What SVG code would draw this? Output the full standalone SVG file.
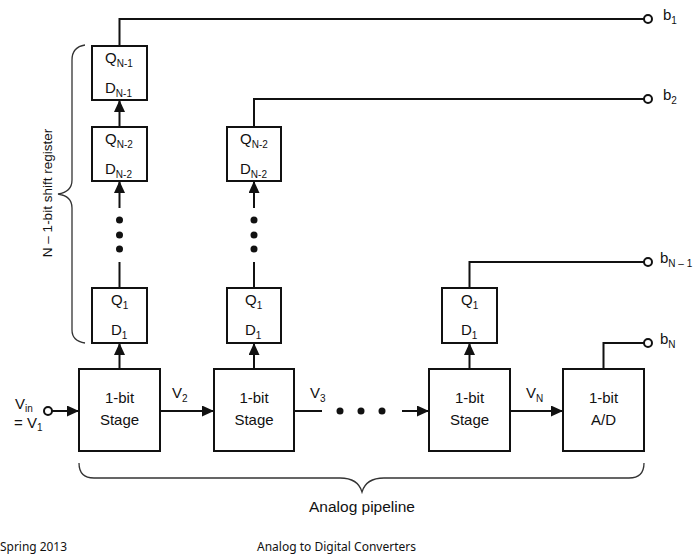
<svg xmlns="http://www.w3.org/2000/svg" width="693" height="560" viewBox="0 0 693 560">
<style>
.box{fill:#fff;stroke:#111;stroke-width:2}
.ln{fill:none;stroke:#111;stroke-width:2}
.ar{fill:none;stroke:#111;stroke-width:2;marker-end:url(#ah)}
.term{fill:#fff;stroke:#111;stroke-width:2}
.dot{fill:#111}
.brace{fill:none;stroke:#333;stroke-width:1.3}
.t{font-family:"Liberation Sans",Arial,sans-serif;font-size:15px;fill:#111}
.tc{text-anchor:middle}
.s{font-size:10px}
.ft{font-family:"Noto Sans","Open Sans",sans-serif;font-size:13px;fill:#111}
</style>
<defs>
<marker id="ah" markerUnits="userSpaceOnUse" markerWidth="12" markerHeight="11" refX="12" refY="5.5" orient="auto">
<path d="M0,0 L12,5.5 L0,11 z" fill="#111"/>
</marker>
</defs>

<g id="connectors">
<line class="ar" x1="119.5" y1="127" x2="119.5" y2="100"/>
<line class="ar" x1="119.5" y1="208" x2="119.5" y2="181"/>
<line class="ln" x1="119.5" y1="262" x2="119.5" y2="288"/>
<line class="ar" x1="119.5" y1="369" x2="119.5" y2="343"/>
<polyline class="ln" points="119.5,46 119.5,19 644,19"/>
<circle class="dot" cx="119.5" cy="220" r="3.5"/>
<circle class="dot" cx="119.5" cy="235" r="3.5"/>
<circle class="dot" cx="119.5" cy="249" r="3.5"/>
<line class="ar" x1="254" y1="208" x2="254" y2="181"/>
<line class="ln" x1="254" y1="262" x2="254" y2="288"/>
<line class="ar" x1="254" y1="369" x2="254" y2="343"/>
<polyline class="ln" points="254,127 254,99 644,99"/>
<circle class="dot" cx="254" cy="220" r="3.5"/>
<circle class="dot" cx="254" cy="235" r="3.5"/>
<circle class="dot" cx="254" cy="249" r="3.5"/>
<line class="ar" x1="469.5" y1="369" x2="469.5" y2="343"/>
<polyline class="ln" points="469.5,288 469.5,262 644,262"/>
<polyline class="ln" points="603.5,369 603.5,343 644,343"/>
<line class="ar" x1="52" y1="411" x2="79" y2="411"/>
<line class="ar" x1="160" y1="411" x2="214" y2="411"/>
<line class="ln" x1="294" y1="411" x2="322" y2="411"/>
<circle class="dot" cx="340" cy="411" r="3.5"/>
<circle class="dot" cx="361" cy="411" r="3.5"/>
<circle class="dot" cx="382" cy="411" r="3.5"/>
<line class="ar" x1="402" y1="411" x2="429" y2="411"/>
<line class="ar" x1="510" y1="411" x2="563" y2="411"/>
<circle class="term" cx="48" cy="411" r="4"/>
<circle class="term" cx="648" cy="19" r="4"/>
<circle class="term" cx="648" cy="99" r="4"/>
<circle class="term" cx="648" cy="262" r="4"/>
<circle class="term" cx="648" cy="343" r="4"/>
</g>

<g id="ff-n1-col1">
<rect class="box" x="92" y="46" width="55" height="54"/>
<text class="t" x="105" y="63">Q<tspan class="s" dy="4">N-1</tspan></text>
<text class="t" x="105" y="93">D<tspan class="s" dy="4">N-1</tspan></text>
</g>
<g id="ff-n2-col1">
<rect class="box" x="92" y="127" width="55" height="54"/>
<text class="t" x="105" y="144">Q<tspan class="s" dy="4">N-2</tspan></text>
<text class="t" x="105" y="174">D<tspan class="s" dy="4">N-2</tspan></text>
</g>
<g id="ff-1-col1">
<rect class="box" x="92" y="288" width="55" height="55"/>
<text class="t" x="111" y="305">Q<tspan class="s" dy="4">1</tspan></text>
<text class="t" x="111" y="335">D<tspan class="s" dy="4">1</tspan></text>
</g>
<g id="ff-n2-col2">
<rect class="box" x="227" y="127" width="54" height="54"/>
<text class="t" x="240" y="144">Q<tspan class="s" dy="4">N-2</tspan></text>
<text class="t" x="240" y="174">D<tspan class="s" dy="4">N-2</tspan></text>
</g>
<g id="ff-1-col2">
<rect class="box" x="227" y="288" width="54" height="55"/>
<text class="t" x="245" y="305">Q<tspan class="s" dy="4">1</tspan></text>
<text class="t" x="245" y="335">D<tspan class="s" dy="4">1</tspan></text>
</g>
<g id="ff-1-col3">
<rect class="box" x="442" y="288" width="55" height="55"/>
<text class="t" x="461" y="305">Q<tspan class="s" dy="4">1</tspan></text>
<text class="t" x="461" y="335">D<tspan class="s" dy="4">1</tspan></text>
</g>

<g id="stage1">
<rect class="box" x="79" y="369" width="81" height="82"/>
<text class="t tc" x="119.5" y="403">1-bit</text>
<text class="t tc" x="119.5" y="425">Stage</text>
</g>
<g id="stage2">
<rect class="box" x="214" y="369" width="80" height="82"/>
<text class="t tc" x="254" y="403">1-bit</text>
<text class="t tc" x="254" y="425">Stage</text>
</g>
<g id="stage3">
<rect class="box" x="429" y="369" width="81" height="82"/>
<text class="t tc" x="469.5" y="403">1-bit</text>
<text class="t tc" x="469.5" y="425">Stage</text>
</g>
<g id="adc">
<rect class="box" x="563" y="369" width="81" height="82"/>
<text class="t tc" x="603.5" y="403">1-bit</text>
<text class="t tc" x="603.5" y="425">A/D</text>
</g>

<g id="labels">
<text class="t" x="15" y="409">V<tspan class="s" dy="3">in</tspan></text>
<text class="t" x="14" y="428">= V<tspan class="s" dy="3">1</tspan></text>
<text class="t" x="172" y="398">V<tspan class="s" dy="4">2</tspan></text>
<text class="t" x="310" y="398">V<tspan class="s" dy="4">3</tspan></text>
<text class="t" x="526" y="398">V<tspan class="s" dy="4">N</tspan></text>
<text class="t" x="663" y="20">b<tspan class="s" dy="4">1</tspan></text>
<text class="t" x="663" y="100">b<tspan class="s" dy="4">2</tspan></text>
<text class="t" x="660" y="263">b<tspan class="s" dy="4">N – 1</tspan></text>
<text class="t" x="660" y="344">b<tspan class="s" dy="4">N</tspan></text>
</g>

<g id="braces">
<path class="brace" d="M85,45 Q72,47 72,60 L72,180 Q72,192 58,194 Q72,196 72,208 L72,330 Q72,341 85,343"/>
<text class="t tc" transform="translate(52,193) rotate(-90)" style="font-size:13.5px">N – 1-bit shift register</text>
<path class="brace" d="M79,463 Q79,478 94,478 L340,478 Q358,478 362,492 Q366,478 384,478 L629,478 Q644,478 644,463"/>
<text class="t tc" x="362" y="512" style="font-size:15.5px">Analog pipeline</text>
</g>

<g id="footer">
<text class="ft" x="0" y="551" textLength="67" lengthAdjust="spacingAndGlyphs">Spring 2013</text>
<text class="ft" x="257" y="551" textLength="159" lengthAdjust="spacingAndGlyphs">Analog to Digital Converters</text>
</g>
</svg>
